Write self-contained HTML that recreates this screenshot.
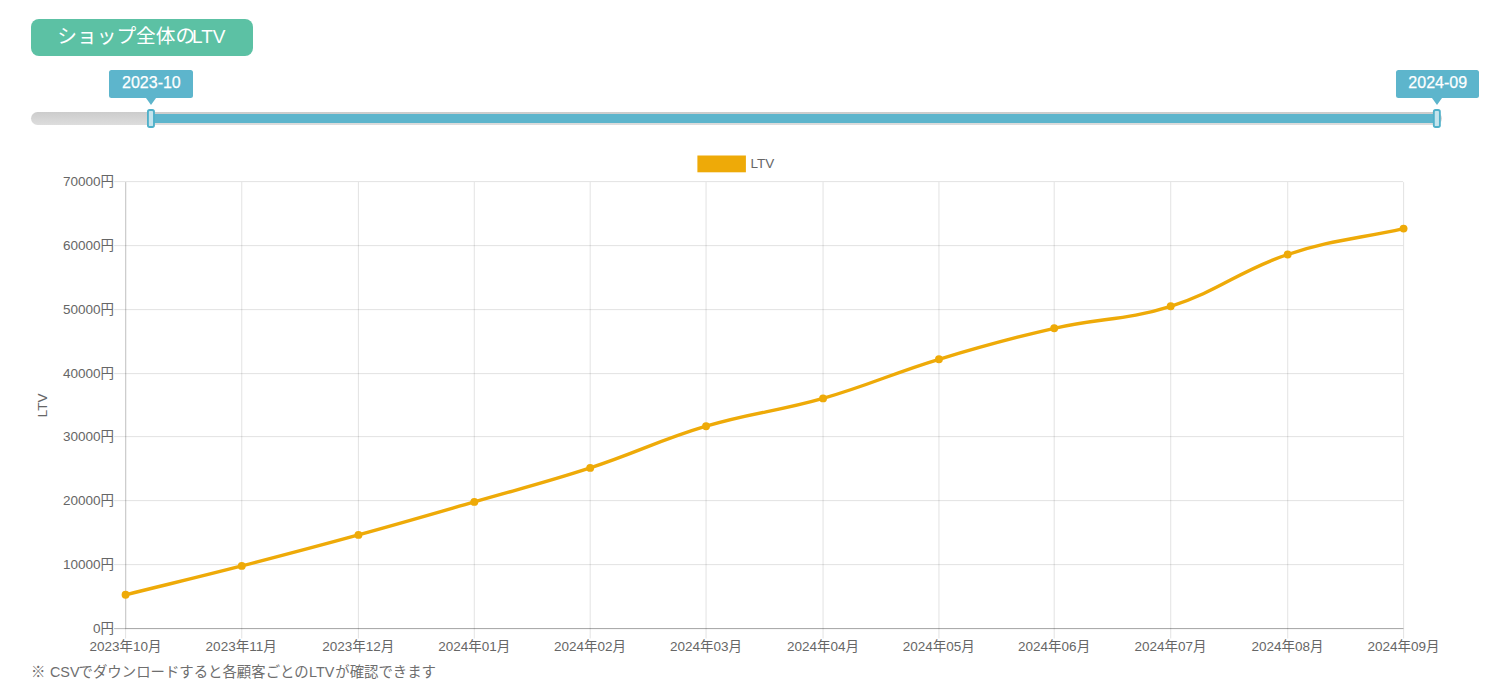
<!DOCTYPE html>
<html lang="ja"><head><meta charset="utf-8"><title>ショップ全体のLTV</title>
<style>
html,body{margin:0;padding:0;background:#fff;}
body{width:1492px;height:691px;position:relative;overflow:hidden;font-family:"Liberation Sans",sans-serif;}
.badge{position:absolute;left:31px;top:18.8px;width:222.2px;height:37.2px;border-radius:8px;background:#5cc1a4;}
.track{position:absolute;left:31px;top:112.1px;width:1410.5px;height:12.9px;border-radius:6.5px;background:linear-gradient(#cccccc,#dddddd);}
.bar{position:absolute;left:151px;top:113.9px;width:1286px;height:9.1px;background:#5db5cc;}
.tip{position:absolute;top:69.9px;height:27.9px;border-radius:2.5px;background:#5db5cc;}
.tip:after{content:"";position:absolute;left:50%;top:100%;margin-left:-5.2px;border:5.2px solid transparent;border-top:7px solid #5db5cc;border-bottom:0;}
svg.ov{position:absolute;left:0;top:0;}
svg.ov text{font-family:"Liberation Sans","Noto Sans CJK JP",sans-serif;}
</style></head>
<body>
<div class="badge" role="heading" aria-label="ショップ全体のLTV"></div>
<div class="track"></div>
<div class="bar"></div>
<div class="tip" style="left:109px;width:84px" aria-label="2023-10"></div>
<div class="tip" style="left:1396.1px;width:82.9px" aria-label="2024-09"></div>
<svg class="ov" width="1492" height="691" viewBox="0 0 1492 691" role="img" aria-label="LTV 2023年10月〜2024年09月 ※ CSVでダウンロードすると各顧客ごとのLTVが確認できます">
<rect x="114.10" y="628" width="1289.00" height="1.125" fill="rgba(0,0,0,0.25)"/>
<rect x="114.10" y="564" width="1289.00" height="1.125" fill="rgba(0,0,0,0.1)"/>
<rect x="114.10" y="500" width="1289.00" height="1.125" fill="rgba(0,0,0,0.1)"/>
<rect x="114.10" y="436" width="1289.00" height="1.125" fill="rgba(0,0,0,0.1)"/>
<rect x="114.10" y="373" width="1289.00" height="1.125" fill="rgba(0,0,0,0.1)"/>
<rect x="114.10" y="309" width="1289.00" height="1.125" fill="rgba(0,0,0,0.1)"/>
<rect x="114.10" y="245" width="1289.00" height="1.125" fill="rgba(0,0,0,0.1)"/>
<rect x="114.10" y="181" width="1289.00" height="1.125" fill="rgba(0,0,0,0.1)"/>
<rect x="125.00" y="628.00" width="1279.00" height="1" fill="rgba(0,0,0,0.1)"/>
<rect x="125.000" y="182.10" width="1.125" height="456.40" fill="rgba(0,0,0,0.1)"/>
<rect x="241.175" y="182.10" width="1.125" height="456.40" fill="rgba(0,0,0,0.1)"/>
<rect x="357.875" y="182.10" width="1.125" height="456.40" fill="rgba(0,0,0,0.1)"/>
<rect x="473.750" y="182.10" width="1.125" height="456.40" fill="rgba(0,0,0,0.1)"/>
<rect x="589.625" y="182.10" width="1.125" height="456.40" fill="rgba(0,0,0,0.1)"/>
<rect x="705.500" y="182.10" width="1.125" height="456.40" fill="rgba(0,0,0,0.1)"/>
<rect x="822.500" y="182.10" width="1.125" height="456.40" fill="rgba(0,0,0,0.1)"/>
<rect x="938.375" y="182.10" width="1.125" height="456.40" fill="rgba(0,0,0,0.1)"/>
<rect x="1053.650" y="182.10" width="1.125" height="456.40" fill="rgba(0,0,0,0.1)"/>
<rect x="1170.125" y="182.10" width="1.125" height="456.40" fill="rgba(0,0,0,0.1)"/>
<rect x="1287.125" y="182.10" width="1.125" height="456.40" fill="rgba(0,0,0,0.1)"/>
<rect x="1403.000" y="182.10" width="1.125" height="456.40" fill="rgba(0,0,0,0.1)"/>
<rect x="125.00" y="182.10" width="1.45" height="445.90" fill="rgba(0,0,0,0.1)"/>
<text x="92.99" y="633.30" font-size="13.5" fill="#666">0円</text>
<text x="62.96" y="569.30" font-size="13.5" fill="#666">10000円</text>
<text x="62.96" y="505.30" font-size="13.5" fill="#666">20000円</text>
<text x="62.96" y="441.30" font-size="13.5" fill="#666">30000円</text>
<text x="62.96" y="378.30" font-size="13.5" fill="#666">40000円</text>
<text x="62.96" y="314.30" font-size="13.5" fill="#666">50000円</text>
<text x="62.96" y="250.30" font-size="13.5" fill="#666">60000円</text>
<text x="62.96" y="186.30" font-size="13.5" fill="#666">70000円</text>
<text x="89.44" y="651" font-size="13.5" fill="#666">2023年10月</text>
<text x="205.61" y="651" font-size="13.5" fill="#666">2023年11月</text>
<text x="322.31" y="651" font-size="13.5" fill="#666">2023年12月</text>
<text x="438.19" y="651" font-size="13.5" fill="#666">2024年01月</text>
<text x="554.06" y="651" font-size="13.5" fill="#666">2024年02月</text>
<text x="669.94" y="651" font-size="13.5" fill="#666">2024年03月</text>
<text x="786.94" y="651" font-size="13.5" fill="#666">2024年04月</text>
<text x="902.81" y="651" font-size="13.5" fill="#666">2024年05月</text>
<text x="1018.09" y="651" font-size="13.5" fill="#666">2024年06月</text>
<text x="1134.56" y="651" font-size="13.5" fill="#666">2024年07月</text>
<text x="1251.56" y="651" font-size="13.5" fill="#666">2024年08月</text>
<text x="1367.44" y="651" font-size="13.5" fill="#666">2024年09月</text>
<g transform="translate(47.0 404.9) rotate(-90)"><text x="-12.38" y="0" font-size="13.5" fill="#666">LTV</text></g>
<rect x="697.4" y="155.5" width="48.5" height="16.8" fill="#eeaa08"/>
<text x="750.60" y="168" font-size="13.5" fill="#666">LTV</text>
<path d="M125.56 594.80C172.03 583.24 195.36 577.83 241.74 565.90C288.51 553.87 311.87 547.71 358.44 534.90C404.90 522.11 428.02 515.28 474.31 501.90C520.72 488.48 544.29 482.89 590.19 467.90C636.99 452.61 658.93 440.27 706.06 426.20C752.08 412.47 776.88 411.67 823.06 398.40C870.03 384.91 892.15 373.49 938.94 359.30C984.61 345.45 1007.70 338.94 1054.21 328.30C1100.40 317.74 1125.78 320.50 1170.69 306.30C1219.17 290.98 1239.37 270.62 1287.69 254.50C1332.52 239.54 1357.21 238.96 1403.56 228.60" fill="none" stroke="#eeaa08" stroke-width="3.375" stroke-linecap="butt" stroke-linejoin="miter"/>
<circle cx="125.56" cy="594.80" r="3.94" fill="#eeaa08"/>
<circle cx="241.74" cy="565.90" r="3.94" fill="#eeaa08"/>
<circle cx="358.44" cy="534.90" r="3.94" fill="#eeaa08"/>
<circle cx="474.31" cy="501.90" r="3.94" fill="#eeaa08"/>
<circle cx="590.19" cy="467.90" r="3.94" fill="#eeaa08"/>
<circle cx="706.06" cy="426.20" r="3.94" fill="#eeaa08"/>
<circle cx="823.06" cy="398.40" r="3.94" fill="#eeaa08"/>
<circle cx="938.94" cy="359.30" r="3.94" fill="#eeaa08"/>
<circle cx="1054.21" cy="328.30" r="3.94" fill="#eeaa08"/>
<circle cx="1170.69" cy="306.30" r="3.94" fill="#eeaa08"/>
<circle cx="1287.69" cy="254.50" r="3.94" fill="#eeaa08"/>
<circle cx="1403.56" cy="228.60" r="3.94" fill="#eeaa08"/>
<rect x="147.0" y="109.1" width="7.9" height="18.8" rx="2.6" fill="#4fb0c9"/>
<rect x="148.85" y="110.95" width="4.2" height="15.1" rx="0.9" fill="#c4e4ed"/>
<rect x="1432.9" y="109.1" width="7.9" height="18.8" rx="2.6" fill="#4fb0c9"/>
<rect x="1434.75" y="110.95" width="4.2" height="15.1" rx="0.9" fill="#c4e4ed"/>
<text x="57.34" y="43" font-size="19.7" fill="#fff">ショップ全体の<tspan x="192.07" font-size="19">LTV</tspan></text>
<text x="151.4" y="87.6" font-size="16" fill="#fff" stroke="#fff" stroke-width="0.25" text-anchor="middle">2023-10</text>
<text x="1437.7" y="87.6" font-size="16" fill="#fff" stroke="#fff" stroke-width="0.25" text-anchor="middle">2024-09</text>
<text y="677" font-size="14.4" fill="#6e6e6e"><tspan x="31.10">※</tspan><tspan x="49.96">CSV</tspan><tspan x="78.57">でダウンロードすると各顧客ごとの</tspan><tspan x="308.97">LTV</tspan><tspan x="335.24">が確認できます</tspan></text>
</svg>
</body></html>
